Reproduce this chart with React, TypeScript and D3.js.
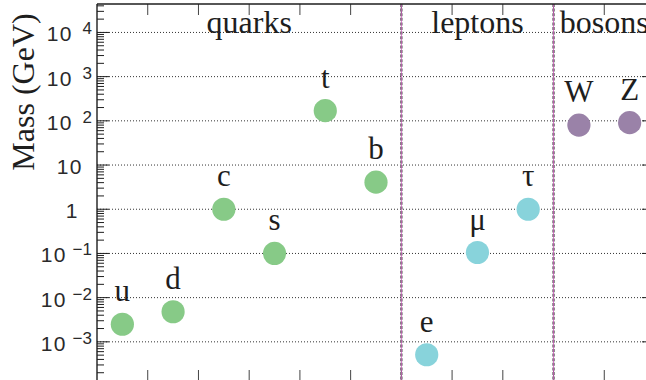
import React from "react";
import * as d3 from "d3";

// Particle masses in GeV, grouped by family
const particles = ["u", "d", "c", "s", "t", "b", "e", "μ", "τ", "W", "Z"];
const masses = [0.0025, 0.0048, 1.0, 0.1, 170, 4.1, 0.00051, 0.105, 1.0, 80, 91];
const families = ["quark", "quark", "quark", "quark", "quark", "quark", "lepton", "lepton", "lepton", "boson", "boson"];

const groupNames = ["quarks", "leptons", "bosons"];
const groupStarts = [0, 6, 9];
const groupEnds = [6, 9, 11];

const decadeExponents = [-3, -2, -1, 0, 1, 2, 3, 4];

const familyColor: Record<string, string> = {
  quark: "#87ca87",
  lepton: "#88d3db",
  boson: "#9a82a8",
};

const W = 646;
const H = 380;
const left = 97;
const right = 655;
const top = 4;
const bottom = 381;

export default function App() {
  const x = d3.scaleLinear().domain([0, 11]).range([left, right]);
  const y = d3.scaleLog().domain([1.3e-4, 4.4e4]).range([bottom, top]);

  const [lo, hi] = y.domain();
  const minorTicks: number[] = [];
  for (let e = Math.floor(Math.log10(lo)); e <= Math.ceil(Math.log10(hi)); e++) {
    for (let m = 1; m <= 9; m++) {
      const v = m * Math.pow(10, e);
      if (v >= lo && v <= hi) minorTicks.push(v);
    }
  }
  const xTicks = d3.range(1, 12);

  const serif = "'Liberation Serif', 'Times New Roman', serif";
  const sans = "'Liberation Sans', Arial, sans-serif";
  const ink = "#1e1e1e";

  return (
    <svg
      width={W}
      height={H}
      style={{ position: "fixed", left: 0, top: 0, background: "#fff" }}
    >
      <defs>
        <clipPath id="plot">
          <rect x={left} y={top} width={right - left} height={bottom - top} />
        </clipPath>
      </defs>

      {/* decade grid lines */}
      <g clipPath="url(#plot)">
        {decadeExponents.map((e) => (
          <line
            key={e}
            x1={left}
            x2={right}
            y1={y(Math.pow(10, e))}
            y2={y(Math.pow(10, e))}
            stroke="#333"
            strokeWidth={1}
            strokeDasharray="1,2"
          />
        ))}
      </g>

      {/* left-axis minor and major ticks, right-axis major ticks */}
      {minorTicks.map((v, i) => {
        const isMajor = Math.abs(Math.log10(v) - Math.round(Math.log10(v))) < 1e-9;
        const len = isMajor ? 12 : 7;
        return (
          <g key={i}>
            <line x1={left} x2={left + len} y1={y(v)} y2={y(v)} stroke={ink} strokeWidth={1} />
            {isMajor && (
              <line x1={right} x2={right - 13} y1={y(v)} y2={y(v)} stroke={ink} strokeWidth={1} />
            )}
          </g>
        );
      })}

      {/* top and bottom ticks */}
      {xTicks.map((t) => (
        <g key={t}>
          <line x1={x(t)} x2={x(t)} y1={top} y2={top + 11} stroke="#444" strokeWidth={1} />
          <line x1={x(t)} x2={x(t)} y1={bottom} y2={bottom - 11} stroke="#444" strokeWidth={1} />
        </g>
      ))}

      {/* family separators */}
      {groupStarts.slice(1).map((s) => (
        <g key={s}>
          <line
            x1={x(s)}
            x2={x(s)}
            y1={top}
            y2={bottom}
            stroke="#7a7a7a"
            strokeWidth={2.6}
            strokeDasharray="3,1.6"
          />
          <line x1={x(s)} x2={x(s)} y1={top} y2={bottom} stroke="#c85ab8" strokeWidth={0.8} />
        </g>
      ))}

      {/* frame */}
      <line x1={left} x2={left} y1={top} y2={bottom} stroke={ink} strokeWidth={1.4} />
      <line x1={left} x2={right} y1={top} y2={top} stroke={ink} strokeWidth={1.4} />

      {/* y tick labels */}
      {decadeExponents.map((e) => {
        const ty = y(Math.pow(10, e));
        if (e === 0 || e === 1) {
          return (
            <text
              key={e}
              x={e === 0 ? 79 : 83}
              y={ty + 9}
              textAnchor="end"
              fontFamily={sans}
              fontSize={21}
              letterSpacing={1.5}
              fill="#2a2a2a"
            >
              {e === 0 ? "1" : "10"}
            </text>
          );
        }
        const sup = e < 0 ? `−${-e}` : `${e}`;
        return (
          <g key={e} fontFamily={sans} fill="#2a2a2a">
            <text x={e < 0 ? 67 : 73} y={ty + 9} textAnchor="end" fontSize={21} letterSpacing={1.5}>
              10
            </text>
            <text x={92} y={ty + 2} textAnchor="end" fontSize={17}>
              {sup}
            </text>
          </g>
        );
      })}

      {/* axis title */}
      <text
        transform={`translate(34, 92) rotate(-90)`}
        textAnchor="middle"
        fontFamily={serif}
        fontSize={32}
        fill={ink}
      >
        Mass (GeV)
      </text>

      {/* family names */}
      {groupNames.map((g, i) => (
        <text
          key={g}
          x={x((groupStarts[i] + groupEnds[i]) / 2)}
          y={33}
          textAnchor="middle"
          fontFamily={serif}
          fontSize={32}
          fill={ink}
        >
          {g}
        </text>
      ))}

      {/* particles */}
      {particles.map((p, i) => {
        const cx = x(i + 0.5);
        const cy = y(masses[i]);
        return (
          <g key={p}>
            <circle cx={cx} cy={cy} r={11.6} fill={familyColor[families[i]]} />
            <text
              x={cx}
              y={cy - 23}
              textAnchor="middle"
              fontFamily={serif}
              fontSize={31}
              fill={ink}
            >
              {p}
            </text>
          </g>
        );
      })}
    </svg>
  );
}
